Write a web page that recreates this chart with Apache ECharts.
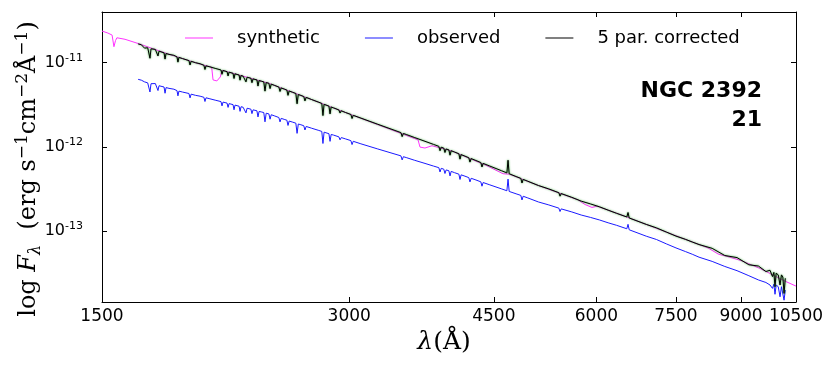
<!DOCTYPE html>
<html>
<head>
<meta charset="utf-8">
<script src="https://cdn.jsdelivr.net/npm/echarts@6/dist/echarts.min.js"></script>
<style>
  html, body { margin: 0; padding: 0; background: #fff; }
  #chart { width: 830px; height: 368px; }
</style>
</head>
<body>
<div id="chart"></div>
<script>
// wavelengths in Angstrom, fluxes as log10(F)
const synthWave = [1500, 1525, 1543, 1551, 1558, 1564, 1600, 1660, 1800, 1975,
  2040, 2048, 2070, 2090, 2100, 2400, 2800, 3000, 3638, 3659,
  3710, 3784, 3805, 4000, 4415, 4617, 4700, 5100, 5698, 5811,
  5926, 6010, 6400, 8000, 8204, 8450, 8652, 9000, 9500, 10180, 10500];
const synthLogF = [-10.627, -10.651, -10.675, -10.813, -10.74, -10.707, -10.725, -10.775, -10.895, -11.02,
  -11.056, -11.207, -11.219, -11.172, -11.092, -11.25, -11.499, -11.61, -11.917, -12.004,
  -12.015, -11.988, -11.975, -12.05, -12.225, -12.32, -12.325, -12.46, -12.63, -12.685,
  -12.72, -12.705, -12.8, -13.16, -13.2, -13.275, -13.3, -13.35, -13.445, -13.594, -13.653];

// observed and corrected share one wavelength grid
const obsWave = [1660, 1675, 1690, 1705, 1711, 1716, 1721, 1728, 1742, 1750,
  1755, 1760, 1768, 1785, 1790, 1795, 1810, 1835, 1851, 1856,
  1861, 1880, 1914, 1920, 1926, 1950, 1975, 1996, 2002, 2008,
  2030, 2060, 2094, 2100, 2106, 2118, 2130, 2136, 2142, 2154,
  2166, 2172, 2178, 2190, 2203, 2209, 2215, 2228, 2239, 2246,
  2253, 2265, 2277, 2284, 2291, 2303, 2316, 2323, 2330, 2345,
  2361, 2369, 2377, 2385, 2395, 2403, 2411, 2435, 2463, 2471,
  2479, 2500, 2519, 2527, 2535, 2560, 2583, 2592, 2601, 2620,
  2641, 2650, 2659, 2700, 2750, 2778, 2787, 2796, 2810, 2834,
  2843, 2852, 2870, 2914, 2924, 2934, 2970, 3014, 3024, 3034,
  3100, 3250, 3468, 3480, 3492, 3520, 3600, 3700, 3800, 3857,
  3870, 3883, 3911, 3924, 3937, 3967, 3980, 3993, 4030, 4080,
  4093, 4106, 4150, 4195, 4209, 4223, 4280, 4339, 4353, 4367,
  4450, 4600, 4668, 4683, 4698, 4790, 4854, 4870, 4886, 4950,
  5100, 5250, 5400, 5418, 5436, 5600, 5750, 5900, 6050, 6200,
  6350, 6534, 6556, 6578, 6900, 7100, 7300, 7500, 7700, 7850,
  8000, 8300, 8600, 8900, 9200, 9450, 9650, 9762, 9830, 9868,
  9900, 9932, 9990, 10041, 10080, 10120, 10154, 10190];
const obsLogF = [-11.2, -11.21, -11.23, -11.242, -11.245, -11.35, -11.252, -11.257, -11.25, -11.27,
  -11.333, -11.276, -11.281, -11.291, -11.365, -11.298, -11.307, -11.317, -11.334, -11.396,
  -11.34, -11.351, -11.368, -11.42, -11.376, -11.39, -11.4, -11.413, -11.463, -11.419,
  -11.431, -11.447, -11.464, -11.515, -11.47, -11.476, -11.482, -11.533, -11.488, -11.494,
  -11.5, -11.561, -11.506, -11.511, -11.519, -11.58, -11.525, -11.531, -11.536, -11.598,
  -11.543, -11.549, -11.554, -11.607, -11.562, -11.568, -11.573, -11.646, -11.581, -11.587,
  -11.594, -11.704, -11.602, -11.606, -11.61, -11.673, -11.62, -11.635, -11.653, -11.705,
  -11.663, -11.675, -11.685, -11.747, -11.695, -11.708, -11.72, -11.841, -11.73, -11.739,
  -11.75, -11.801, -11.759, -11.78, -11.804, -11.818, -11.961, -11.827, -11.833, -11.845,
  -11.936, -11.854, -11.861, -11.882, -11.918, -11.891, -11.907, -11.927, -11.974, -11.935,
  -11.965, -12.026, -12.108, -12.156, -12.118, -12.128, -12.159, -12.194, -12.229, -12.248,
  -12.299, -12.256, -12.266, -12.317, -12.275, -12.284, -12.346, -12.292, -12.307, -12.325,
  -12.388, -12.333, -12.349, -12.366, -12.417, -12.374, -12.394, -12.416, -12.468, -12.424,
  -12.452, -12.5, -12.522, -12.384, -12.53, -12.558, -12.577, -12.631, -12.587, -12.607,
  -12.655, -12.69, -12.728, -12.768, -12.737, -12.773, -12.81, -12.838, -12.868, -12.902,
  -12.932, -12.973, -12.92, -12.985, -13.061, -13.1, -13.152, -13.2, -13.243, -13.275,
  -13.31, -13.36, -13.42, -13.47, -13.53, -13.58, -13.61, -13.64, -13.68, -13.63,
  -13.75, -13.64, -13.66, -13.78, -13.66, -13.68, -13.82, -13.7];
const corrLogF = [-10.78, -10.79, -10.83, -10.825, -10.83, -10.95, -10.838, -10.843, -10.845, -10.86,
  -10.923, -10.866, -10.873, -10.886, -10.96, -10.894, -10.904, -10.915, -10.934, -10.996,
  -10.94, -10.954, -10.978, -11.03, -10.986, -11.003, -11.015, -11.033, -11.083, -11.04,
  -11.052, -11.07, -11.089, -11.14, -11.095, -11.102, -11.109, -11.16, -11.115, -11.122,
  -11.129, -11.19, -11.135, -11.141, -11.149, -11.21, -11.155, -11.162, -11.168, -11.23,
  -11.175, -11.181, -11.187, -11.24, -11.195, -11.201, -11.207, -11.28, -11.215, -11.222,
  -11.23, -11.34, -11.238, -11.242, -11.247, -11.31, -11.257, -11.273, -11.292, -11.344,
  -11.302, -11.315, -11.328, -11.39, -11.338, -11.354, -11.368, -11.49, -11.38, -11.391,
  -11.404, -11.456, -11.414, -11.44, -11.469, -11.486, -11.63, -11.496, -11.504, -11.518,
  -11.61, -11.528, -11.538, -11.563, -11.6, -11.573, -11.594, -11.617, -11.665, -11.627,
  -11.66, -11.733, -11.832, -11.88, -11.842, -11.854, -11.889, -11.931, -11.972, -11.995,
  -12.047, -12.005, -12.016, -12.068, -12.026, -12.037, -12.1, -12.047, -12.062, -12.083,
  -12.147, -12.093, -12.111, -12.13, -12.182, -12.14, -12.163, -12.187, -12.24, -12.197,
  -12.229, -12.285, -12.31, -12.16, -12.32, -12.353, -12.375, -12.43, -12.387, -12.409,
  -12.46, -12.5, -12.545, -12.586, -12.555, -12.6, -12.645, -12.678, -12.712, -12.752,
  -12.79, -12.833, -12.78, -12.845, -12.921, -12.962, -13.012, -13.06, -13.098, -13.13,
  -13.16, -13.205, -13.29, -13.315, -13.4, -13.415, -13.48, -13.465, -13.54, -13.49,
  -13.66, -13.5, -13.52, -13.64, -13.52, -13.545, -13.74, -13.56];

const xTicks = [1500, 3000, 4500, 6000, 7500, 9000, 10500];
const yTicks = [1e-13, 1e-12, 1e-11];
const seriesNames = ["synthetic", "observed", "5 par. corrected"];

const toPoints = (wave, logF) => wave.map((w, i) => [w, Math.pow(10, logF[i])]);

const chart = echarts.init(document.getElementById("chart"));

const serif = "DejaVu Serif";
const sans = "DejaVu Sans";

const xBase = {
  type: "log",
  min: 1500,
  max: 10500,
  axisLine: { show: true, onZero: false, lineStyle: { color: "#000", width: 1 } },
  axisTick: { show: true, inside: true, length: 5, customValues: xTicks, lineStyle: { color: "#000" } },
  splitLine: { show: false },
  minorTick: { show: false },
};
const yBase = {
  type: "log",
  min: 1.44e-14,
  max: 3.97e-11,
  axisLine: { show: true, onZero: false, lineStyle: { color: "#000", width: 1 } },
  axisTick: { show: true, inside: true, length: 5, customValues: yTicks, lineStyle: { color: "#000" } },
  splitLine: { show: false },
  minorTick: { show: false },
};

const option = {
  animation: false,
  backgroundColor: "#fff",
  grid: { left: 102, right: 34, top: 12, bottom: 66, outerBoundsMode: "none" },
  legend: {
    data: seriesNames,
    icon: "rect",
    left: 185,
    top: 27,
    padding: 0,
    itemWidth: 28,
    itemHeight: 1,
    itemGap: 45,
    textStyle: { fontSize: 18, fontFamily: sans, color: "#000", lineHeight: 22, padding: [0, 0, 0, 19] },
  },
  xAxis: [
    {
      ...xBase,
      position: "bottom",
      axisLabel: {
        customValues: xTicks,
        margin: 6,
        fontSize: 17,
        fontFamily: sans,
        color: "#000",
        hideOverlap: false,
        formatter: (v) => String(Math.round(v)),
      },
      name: "{i|λ}{n|(Å)}",
      nameLocation: "middle",
      nameGap: 28,
      nameMoveOverlap: false,
      nameTextStyle: {
        padding: [0, 10, 0, 0],
        rich: {
          i: { fontFamily: serif, fontSize: 25, fontStyle: "italic", color: "#000" },
          n: { fontFamily: serif, fontSize: 25, color: "#000" },
        },
      },
    },
    { ...xBase, position: "top", axisLabel: { show: false } },
  ],
  yAxis: [
    {
      ...yBase,
      position: "left",
      axisLabel: {
        customValues: yTicks,
        margin: 19,
        color: "#000",
        formatter: (v) => "{b|10}{s|" + Math.round(Math.log10(v)) + "}",
        rich: {
          b: { fontSize: 16, fontFamily: sans, color: "#000", lineHeight: 20 },
          s: { fontSize: 11, fontFamily: sans, color: "#000", lineHeight: 20, verticalAlign: "top" },
        },
      },
      name: "{n|log }{i|F}{sub|λ}{n|  (erg s}{sup|−1}{n|cm}{sup|−2}{n|Å}{sup|−1}{n|)}",
      nameLocation: "middle",
      nameGap: 58,
      nameMoveOverlap: false,
      nameTextStyle: {
        padding: [0, 24, 0, 0],
        rich: {
          n: { fontFamily: serif, fontSize: 24, color: "#000", lineHeight: 30 },
          i: { fontFamily: serif, fontSize: 24, fontStyle: "italic", color: "#000", lineHeight: 30 },
          sub: { fontFamily: serif, fontSize: 16, fontStyle: "italic", color: "#000", lineHeight: 30, verticalAlign: "bottom" },
          sup: { fontFamily: serif, fontSize: 17, color: "#000", lineHeight: 30, verticalAlign: "top" },
        },
      },
    },
    { ...yBase, position: "right", axisLabel: { show: false } },
  ],
  graphic: [
    {
      type: "text",
      x: 762,
      y: 77,
      style: {
        text: "NGC 2392\n21",
        align: "right",
        verticalAlign: "top",
        fontFamily: sans,
        fontWeight: "bold",
        fontSize: 22,
        lineHeight: 29,
        fill: "#000",
      },
    },
  ],
  series: [
    {
      name: seriesNames[0],
      type: "line",
      data: toPoints(synthWave, synthLogF),
      symbol: "none",
      lineStyle: { color: "#ff33ff", width: 1 },
      itemStyle: { color: "#ff33ff" },
      z: 2,
    },
    {
      name: seriesNames[1],
      type: "line",
      data: toPoints(obsWave, obsLogF),
      symbol: "none",
      lineStyle: { color: "#1a1aff", width: 1 },
      itemStyle: { color: "#1a1aff" },
      z: 3,
    },
    {
      name: seriesNames[2],
      type: "line",
      data: toPoints(obsWave, corrLogF),
      symbol: "none",
      lineStyle: { color: "#000", width: 1, shadowColor: "rgba(0,150,0,0.9)", shadowBlur: 2 },
      itemStyle: { color: "#000" },
      z: 4,
    },
  ],
};

chart.setOption(option);
</script>
</body>
</html>
